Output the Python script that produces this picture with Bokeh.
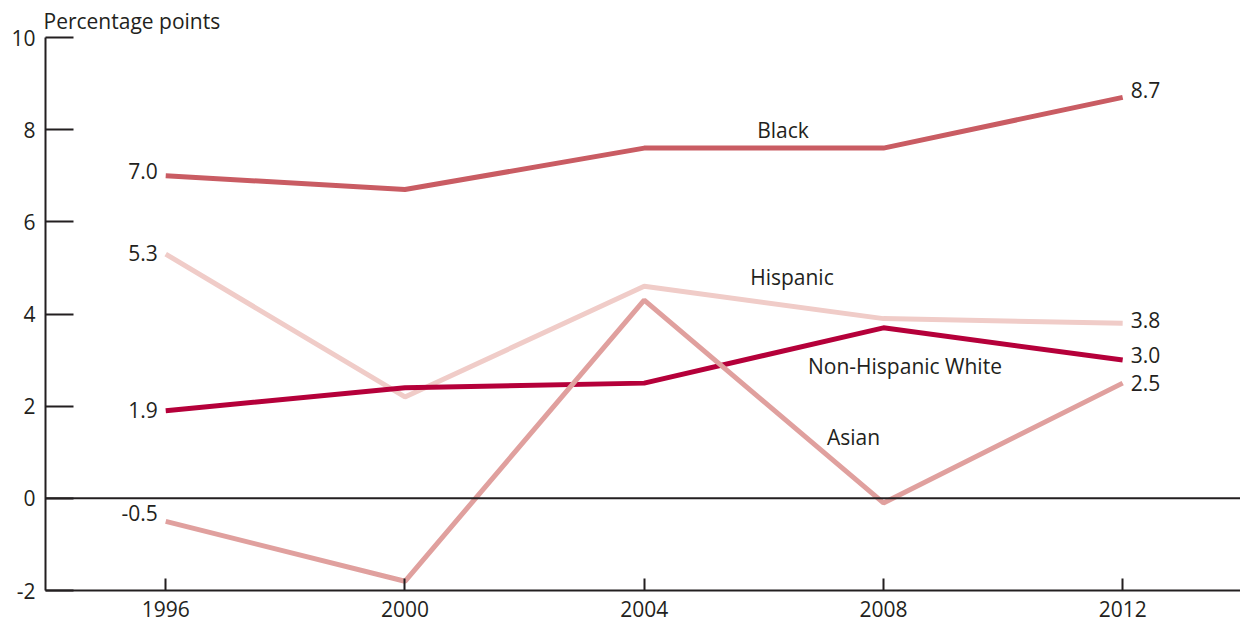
from bokeh.plotting import figure
from bokeh.models import Span, FixedTicker, Label, PrintfTickFormatter
from bokeh.core.properties import value
from bokeh.embed import file_html
from bokeh.resources import INLINE

years = [1996, 2000, 2004, 2008, 2012]
black = [7.0, 6.7, 7.6, 7.6, 8.7]
hispanic = [5.3, 2.2, 4.6, 3.9, 3.8]
nh_white = [1.9, 2.4, 2.5, 3.7, 3.0]
asian = [-0.5, -1.8, 4.3, -0.1, 2.5]
y_ticks = [-2, 0, 2, 4, 6, 8, 10]

FONT = "Open Sans"
TXT = "#231f20"
FS = "21px"

series = [
    ("Black", black, "#c95c63", (2006.32, 8.0)),
    ("Hispanic", hispanic, "#f0ccc8", (2006.47, 4.8)),
    ("Non-Hispanic White", nh_white, "#b5003a", (2008.36, 2.87)),
    ("Asian", asian, "#e0a09e", (2007.5, 1.33)),
]
start_dy = {"Black": -5, "Hispanic": -1, "Non-Hispanic White": -1, "Asian": -8}
end_dy = {"Black": -7, "Hispanic": -3, "Non-Hispanic White": -5, "Asian": 0}

p = figure(width=1240, height=628, output_backend="svg", toolbar_location=None,
           x_range=(1993.99, 2013.97), y_range=(-2, 10),
           min_border_left=45, min_border_right=0, min_border_top=37, min_border_bottom=38,
           title="Percentage points")
p.title.text_font = FONT
p.title.text_font_size = FS
p.title.text_font_style = "normal"
p.title.text_color = TXT
p.title.standoff = 5
p.title.offset = -2

p.outline_line_color = None
p.xgrid.grid_line_color = None
p.ygrid.grid_line_color = None
p.background_fill_color = "white"
p.border_fill_color = "white"

for ax in (p.xaxis[0], p.yaxis[0]):
    ax.axis_line_color = TXT
    ax.axis_line_width = 2
    ax.major_tick_line_color = TXT
    ax.major_tick_line_width = 2
    ax.minor_tick_line_color = None
    ax.major_tick_out = 0
    ax.major_label_text_font = FONT
    ax.major_label_text_font_size = FS
    ax.major_label_text_color = TXT

p.xaxis.ticker = FixedTicker(ticks=years)
p.xaxis.major_tick_in = 12
p.xaxis.major_label_standoff = 10
p.yaxis.ticker = FixedTicker(ticks=y_ticks)
p.yaxis.formatter = PrintfTickFormatter(format="%d")
p.yaxis.major_tick_in = 28
p.yaxis.major_label_standoff = 10

p.add_layout(Span(location=0, dimension="width", line_color=TXT, line_width=2))

for name, vals, color, (lx, ly) in series:
    p.line(years, vals, line_color=color, line_width=5)
    p.text([years[0]], [vals[0]], text=[f"{vals[0]:.1f}"], text_align="right",
           text_baseline="middle", x_offset=-8, y_offset=start_dy[name],
           text_font=value(FONT), text_font_size=FS, text_color=TXT)
    p.text([years[-1]], [vals[-1]], text=[f"{vals[-1]:.1f}"], text_align="left",
           text_baseline="middle", x_offset=8, y_offset=end_dy[name],
           text_font=value(FONT), text_font_size=FS, text_color=TXT)
    p.add_layout(Label(x=lx, y=ly, text=name, text_align="center", text_baseline="middle",
                       text_font=FONT, text_font_size=FS, text_color=TXT))

open("out.html", "w").write(file_html(p, INLINE))
